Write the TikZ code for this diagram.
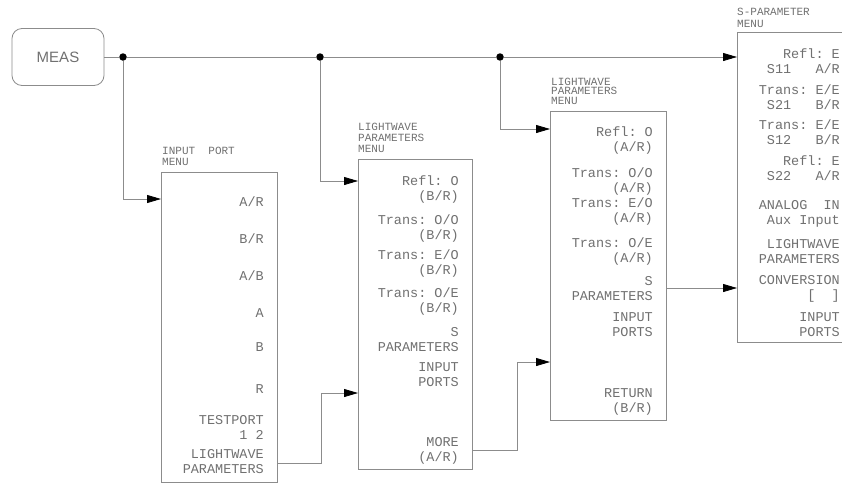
\documentclass[tikz,border=0pt]{standalone}
\usepackage{fontspec}
\setsansfont{Liberation Sans}
\setmonofont{Liberation Mono}
\usetikzlibrary{arrows.meta,calc}
\definecolor{penline}{HTML}{8C8C8C}
\definecolor{pentext}{HTML}{707070}
\tikzset{
  menubox/.style={draw=penline, line width=0.8pt, anchor=north west, inner sep=0pt},
  softkey/.style={anchor=north east, align=right, inner sep=0pt, text=pentext,
                  font=\ttfamily\fontsize{13.5}{15}\selectfont},
  menuhead/.style={anchor=north west, align=left, inner sep=0pt, text=pentext,
                   font=\ttfamily\fontsize{11}{11}\selectfont},
  joint/.style={circle, fill=black, inner sep=0pt, minimum size=7.5pt},
  wire/.style={draw=penline, line width=0.8pt},
  flow/.style={wire, -{Triangle[length=14pt, width=8pt, color=black]}},
}
\begin{document}
\begin{tikzpicture}[x=1pt, y=-1pt]
  \useasboundingbox (0,0) rectangle (842,485);
  \clip (0,0) rectangle (842,485);

  % measure key and junctions
  \node[draw=penline, line width=0.8pt, rounded corners=10pt, minimum width=92pt,
        minimum height=57pt, text=pentext, font=\sffamily\fontsize{15}{15}\selectfont]
        (meas) at (58,57) {MEAS};
  \node[joint] (j1) at (123,57) {};
  \node[joint] (j2) at (320,57) {};
  \node[joint] (j3) at (500,57) {};

  % menus
  \node[menubox, minimum width=116pt, minimum height=310pt] (inport) at (161,172) {};
  \node[menubox, minimum width=114pt, minimum height=310pt] (lw1) at (358,159) {};
  \node[menubox, minimum width=116pt, minimum height=309pt] (lw2) at (550,111) {};
  \node[menubox, minimum width=120pt, minimum height=310pt] (spar) at (737,32) {};

  \node[menuhead] (inporthead) at (162,147) {INPUT\ \ PORT\\MENU};
  \node[menuhead] (lw1head) at (358,123) {LIGHTWAVE\\PARAMETERS\\MENU};
  \node[menuhead, font=\ttfamily\fontsize{11}{9.8}\selectfont] (lw2head) at (551,77.5)
        {LIGHTWAVE\\PARAMETERS\\MENU};
  \node[menuhead, font=\ttfamily\fontsize{11}{12}\selectfont] (sparhead) at (737,8)
        {S-PARAMETER\\MENU};

  % input port menu keys
  \node[softkey] (ipar) at (264,196.5) {A/R};
  \node[softkey] (ipbr) at (264,233.5) {B/R};
  \node[softkey] (ipab) at (264,270.5) {A/B};
  \node[softkey] (ipa) at (264,308.5) {A};
  \node[softkey] (ipb) at (264,342.5) {B};
  \node[softkey] (ipr) at (264,384.5) {R};
  \node[softkey] (iptest) at (264,415.5) {TESTPORT\\1 2};
  \node[softkey] (iplw) at (264,449.5) {LIGHTWAVE\\PARAMETERS};

  % first lightwave menu keys
  \node[softkey] (lw1refl) at (459,175.5) {Refl: O\\(B/R)};
  \node[softkey] (lw1oo) at (459,214.5) {Trans: O/O\\(B/R)};
  \node[softkey] (lw1eo) at (459,249.5) {Trans: E/O\\(B/R)};
  \node[softkey] (lw1oe) at (459,287.5) {Trans: O/E\\(B/R)};
  \node[softkey] (lw1s) at (459,327.5) {S\\PARAMETERS};
  \node[softkey] (lw1in) at (459,362.5) {INPUT\\PORTS};
  \node[softkey] (lw1more) at (459,437.5) {MORE\\(A/R)};

  % second lightwave menu keys
  \node[softkey] (lw2refl) at (653,126.5) {Refl: O\\(A/R)};
  \node[softkey] (lw2oo) at (653,167.5) {Trans: O/O\\(A/R)};
  \node[softkey] (lw2eo) at (653,197.5) {Trans: E/O\\(A/R)};
  \node[softkey] (lw2oe) at (653,237.5) {Trans: O/E\\(A/R)};
  \node[softkey] (lw2s) at (653,276.5) {S\\PARAMETERS};
  \node[softkey] (lw2in) at (653,312.5) {INPUT\\PORTS};
  \node[softkey] (lw2ret) at (653,388.5) {RETURN\\(B/R)};

  % s-parameter menu keys
  \node[softkey] (sps11) at (840,48.5) {Refl: E\\S11\ \ \ A/R};
  \node[softkey] (sps21) at (840,84.5) {Trans: E/E\\S21\ \ \ B/R};
  \node[softkey] (sps12) at (840,119.5) {Trans: E/E\\S12\ \ \ B/R};
  \node[softkey] (sps22) at (840,155.5) {Refl: E\\S22\ \ \ A/R};
  \node[softkey] (spaux) at (840,200.5) {ANALOG\ \ IN\\Aux Input};
  \node[softkey] (splw) at (840,239.5) {LIGHTWAVE\\PARAMETERS};
  \node[softkey] (spconv) at (840,275.5) {CONVERSION\\{}[\ \ ]};
  \node[softkey] (spin) at (840,312.5) {INPUT\\PORTS};

  % connections
  \draw[wire] (meas) -- (j1) -- (j2) -- (j3);
  \draw[flow] (j3) -- (j3 -| spar.west);
  \draw[flow] (j1) |- ($(inport.north west)+(0,27)$);
  \draw[flow] (j2) |- ($(lw1.north west)+(0,22)$);
  \draw[flow] (j3) |- ($(lw2.north west)+(0,18)$);
  \draw[flow] ($(inport.south east)+(0,-19)$) -- ++(44,0) |- ($(lw1.north west)+(0,234)$);
  \draw[flow] ($(lw1.south east)+(0,-19)$) -- ++(45,0) |- ($(lw2.north west)+(0,251)$);
  \draw[flow] ($(lw2.north east)+(0,177)$) -- ($(spar.north west)+(0,256)$);
\end{tikzpicture}
\end{document}
